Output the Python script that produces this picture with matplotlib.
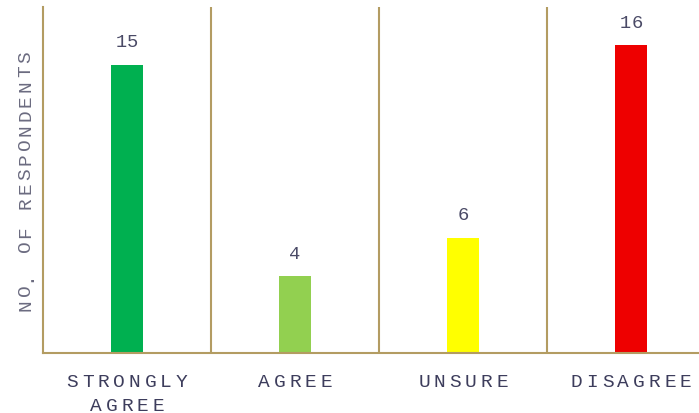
import numpy as np
import matplotlib.pyplot as plt
from matplotlib import transforms

categories = ['STRONGLY\nAGREE', 'AGREE', 'UNSURE', 'DISAGREE']
counts = [15, 4, 6, 16]
bar_colors = ['#00b050', '#92d050', '#ffff00', '#ee0000']
ylabel = 'NO. OF RESPONDENTS'

line_col = '#b39c62'
mono = 'Liberation Mono'


def spaced_text(ax, x, y, s, size, gap, color, trans, dx=0, dy=0, rotation=0):
    # matplotlib has no letter-spacing, so put the characters one by one
    pitch = 0.6 * size + gap
    n = len(s)
    for i, ch in enumerate(s):
        off = (i - (n - 1) / 2) * pitch
        if rotation == 90:
            xy = (dx, off + dy)
        else:
            xy = (off + dx, dy)
        ax.annotate(ch, (x, y), xycoords=trans, xytext=xy, textcoords='offset points',
                    ha='center', va='center', fontsize=size, family=mono,
                    color=color, rotation=rotation, annotation_clip=False)


fig = plt.figure(figsize=(6.99, 4.14), dpi=100)
ax = fig.add_axes([43 / 699, 60 / 414, 672 / 699, 346 / 414])

x = np.arange(len(categories))
ax.bar(x, counts, width=0.19, color=bar_colors)
ax.set_xlim(-0.5, 3.5)
ax.set_ylim(0, 18)

for sep in [0.5, 1.5, 2.5]:
    ax.axvline(sep, color=line_col, lw=1.5)
for side in ['top', 'right']:
    ax.spines[side].set_visible(False)
for side in ['left', 'bottom']:
    ax.spines[side].set_color(line_col)
    ax.spines[side].set_linewidth(1.5)
ax.set_xticks([])
ax.set_yticks([])

# value labels above the bars
for xi, v in zip(x, counts):
    spaced_text(ax, xi, v, str(v), 13.5, 0.4, '#4a4a66', ax.transData, dy=16.5)

# category labels
tr = transforms.blended_transform_factory(ax.transData, ax.transAxes)
for xi, lab in zip(x, categories):
    for j, line in enumerate(lab.split('\n')):
        spaced_text(ax, xi, 0, line, 14, 2.8, '#3d3d5c', tr, dy=-20.5 - 17 * j)

# y label, rotated, in the left margin
spaced_text(ax, 0, 0.5, ylabel, 14, 2.1, '#6b6b80', ax.transAxes,
            dx=-12.5, rotation=90)

fig.savefig('out.png', dpi=100)
